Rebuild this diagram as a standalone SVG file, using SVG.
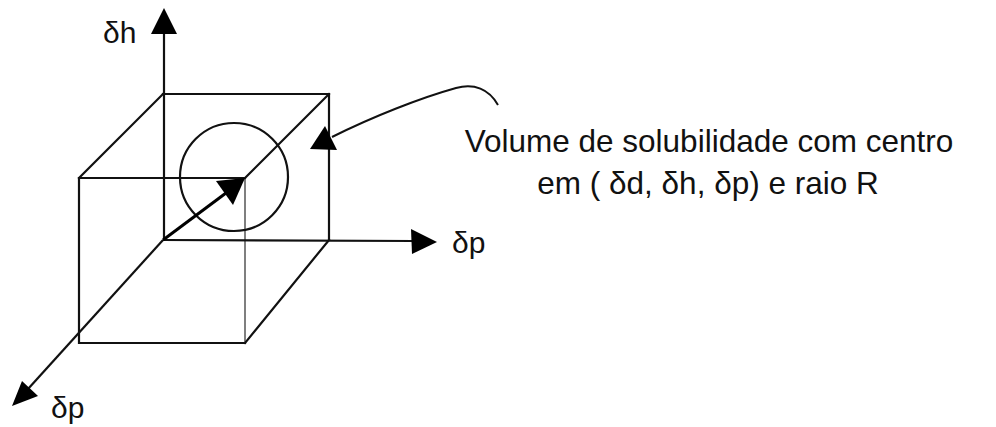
<svg xmlns="http://www.w3.org/2000/svg" width="996" height="427" viewBox="0 0 996 427">
  <style>
    .edge { fill: none; stroke: #111; stroke-width: 2.2; stroke-linecap: square; }
    .thin { fill: none; stroke: #555; stroke-width: 1.5; }
    .axis { fill: none; stroke: #111; stroke-width: 2.2; }
    .head { fill: #000; stroke: none; }
    .lbl { font-family: "Liberation Sans", Arial, Helvetica, sans-serif; fill: #111; }
    .ax { font-size: 30px; }
    .cap { font-size: 31.5px; text-anchor: middle; }
  </style>
  <rect width="996" height="427" fill="#fff"/>

  <g id="cube">
    <polyline class="edge" points="163,94 329,94 329,240"/>
    <polyline class="edge" points="245,178 79,178 79,343 245,343"/>
    <line class="thin" x1="245" y1="178" x2="245" y2="343"/>
    <line class="edge" x1="163" y1="94" x2="79" y2="178"/>
    <line class="edge" x1="329" y1="94" x2="245" y2="178"/>
    <line class="edge" x1="329" y1="240" x2="245" y2="343"/>
  </g>

  <g id="axis-h">
    <line class="axis" x1="164" y1="30" x2="164" y2="240"/>
    <polygon class="head" points="164,8 151,34 177,34"/>
    <text class="lbl ax" x="103" y="43">δh</text>
  </g>

  <g id="axis-p-right">
    <line class="axis" x1="163" y1="240" x2="415" y2="241"/>
    <polygon class="head" points="437,242 411,229 412,254"/>
    <text class="lbl ax" x="452" y="253">δp</text>
  </g>

  <g id="axis-p-front">
    <line class="axis" x1="163" y1="240" x2="28" y2="389"/>
    <polygon class="head" points="12,406 22,381 38,396"/>
    <text class="lbl ax" x="51" y="418">δp</text>
  </g>

  <g id="sphere">
    <circle cx="234" cy="177" r="54" fill="none" stroke="#111" stroke-width="2.2"/>
  </g>

  <g id="radius">
    <line x1="163" y1="240" x2="226" y2="193" stroke="#000" stroke-width="3"/>
    <polygon class="head" points="245,178 216,181 233,205"/>
  </g>

  <g id="label">
    <text class="lbl cap" x="709" y="152">Volume de solubilidade com centro</text>
    <text class="lbl cap" x="708" y="194">em ( δd, δh, δp) e raio R</text>
  </g>

  <g id="connectors">
    <path d="M498,105 C489,89 474,83 456,88 C420,98 372,117 332,137" fill="none" stroke="#111" stroke-width="2"/>
    <polygon class="head" points="325,126 310,149 337,150"/>
  </g>
</svg>
